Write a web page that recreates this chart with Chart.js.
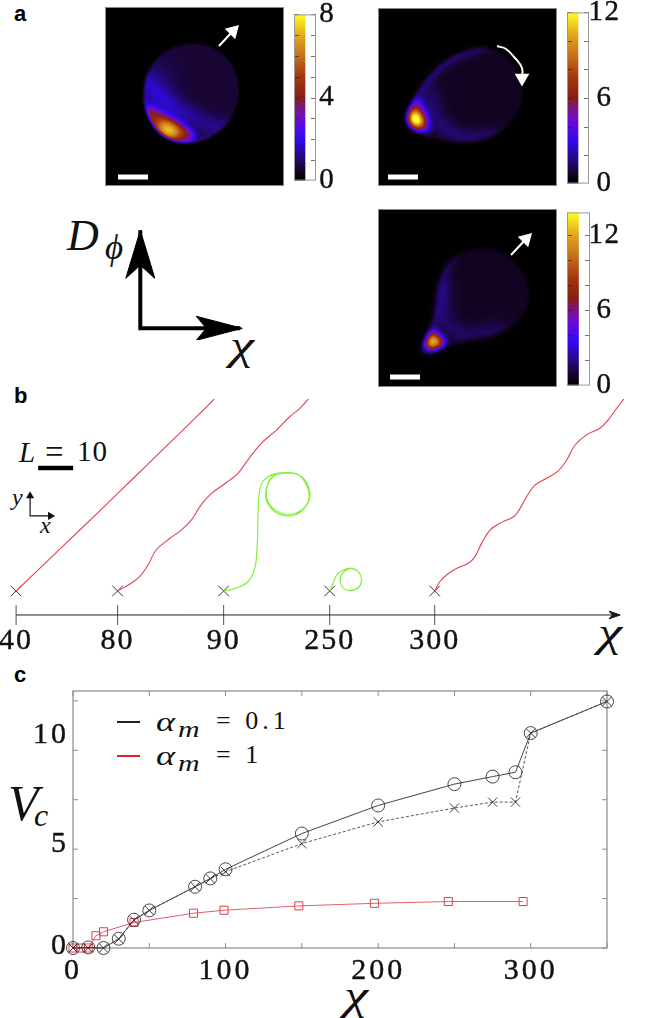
<!DOCTYPE html>
<html>
<head>
<meta charset="utf-8">
<title>Figure</title>
<script src="https://cdn.jsdelivr.net/npm/chart.js@4"></script>
<style>
html, body { margin: 0; padding: 0; background: #fff; }
#page { position: relative; width: 650px; height: 1018px; overflow: hidden; }
canvas { position: absolute; }
.t { position: absolute; font-family: "Liberation Serif", serif; color: #111; white-space: pre; line-height: 1; }
.i { font-style: italic; }
.chi { transform: scaleX(1.3); transform-origin: left top; }
.wide { transform: scaleX(1.3); transform-origin: left top; }
.letter { font-family: "Liberation Sans", sans-serif; font-weight: bold; font-size: 22px; color: #000; }
.key { position: absolute; height: 2px; width: 23px; }
</style>
</head>
<body>
<div id="page">
  <div class="t letter" style="left:14px;top:3px">a</div>
  <div class="t letter" style="left:14px;top:385px">b</div>
  <div class="t letter" style="left:14px;top:664px">c</div>

  <div class="t i" style="left:67px;top:214px;font-size:44px">D</div>
  <div class="t i" style="left:105px;top:230px;font-size:35px">ϕ</div>
  <div class="t i chi" style="left:230px;top:324px;font-size:42px">χ</div>

  <div class="t i" style="left:19px;top:438px;font-size:29px">L</div>
  <div class="t" style="left:45px;top:436px;font-size:33px">=</div>
  <div class="t" style="left:77px;top:437px;font-size:29px;letter-spacing:1px">10</div>
  <div class="t i" style="left:12px;top:485px;font-size:24px">y</div>
  <div class="t i" style="left:40px;top:513px;font-size:24px">x</div>
  <div class="t i chi" style="left:598px;top:611px;font-size:42px">χ</div>

  <div class="t i" style="left:8px;top:778px;font-size:50px">V</div>
  <div class="t i" style="left:34px;top:799px;font-size:32px">c</div>
  <div class="t i chi" style="left:344px;top:974px;font-size:42px">χ</div>

  <div class="key" style="left:117px;top:721px;background:#222"></div>
  <div class="key" style="left:117px;top:755px;background:#d8252d"></div>
  <div class="t i wide" style="left:156px;top:708px;font-size:28px">α</div>
  <div class="t i wide" style="left:178px;top:718px;font-size:23px">m</div>
  <div class="t" style="left:216px;top:708px;font-size:26px;letter-spacing:4px">= 0.1</div>
  <div class="t i wide" style="left:156px;top:742px;font-size:28px">α</div>
  <div class="t i wide" style="left:178px;top:752px;font-size:23px">m</div>
  <div class="t" style="left:216px;top:742px;font-size:26px;letter-spacing:4px">= 1</div>
</div>

<script>
// panel c
const chiBlack = [0, 10, 20, 30, 40, 50, 80, 90, 100, 150, 200, 250, 275, 290, 300, 350];
const vcCircles = [0, 0.03, 0, 0.47, 1.43, 1.9, 3.1, 3.52, 3.98, 5.79, 7.21, 8.29, 8.67, 8.89, 10.87, 12.47];
const vcCrosses = [0, 0, 0, 0.45, 1.4, 1.9, 3.1, 3.5, 3.86, 5.28, 6.38, 7.08, 7.38, 7.38, 10.87, 12.47];
const chiRed = [0, 5, 10, 15, 20, 40, 79, 99, 148, 197.5, 246, 295];
const vcSquares = [0, 0, 0, 0.62, 0.82, 1.29, 1.76, 1.91, 2.13, 2.26, 2.35, 2.35];
const chiTickLabels = [0, 100, 200, 300];
const vcTickLabels = [0, 5, 10];
const vcTickNudge = [-2, -5, -15];

// panel b, tracks in units of L = 10 on the scale bar, relative to each start
const trackStarts = [4.6, 33.6, 63.9, 94.2, 124.2];
const trackLabels = ['40', '80', '90', '250', '300'];
const trackHeight = 6.86;
const track40x = [0, 6.9, 14.5, 23.1, 29.7, 37.3, 44.9, 51.6, 56.6];
const track40y = [0, 6.6, 13.9, 22.1, 28.5, 35.9, 43.3, 49.8, 54.8];
const track80x = [0, 3.4, 6.3, 8.7, 11, 14.9, 18.2, 21.1, 23.5, 26.3, 31.1, 34.4, 37.2, 41, 45.3, 49.1, 52, 54.5];
const track80y = [0, 1.9, 4.1, 7.4, 11.7, 15, 17.4, 20.3, 24.1, 27.4, 31, 33.6, 37.4, 42.1, 45.9, 49.7, 52.1, 54.8];
const track90x = [0, 3.6, 7, 8.9, 9.6, 9.8, 10.1, 11.2, 14.1, 17.9, 21.7, 24.1, 24.4, 23.1, 19.8, 16.5, 13.6, 12.2, 12.7, 14.6, 17.9, 22.2, 24.6, 23.8, 20.3, 16, 13, 12, 13, 15.5, 18.9];
const track90y = [0, 0.8, 2.7, 6.5, 13.1, 20.8, 27.4, 31.2, 33.3, 33.8, 33, 29.3, 26.5, 23.8, 22, 22.2, 24.1, 27, 30.8, 33.1, 33.8, 32.7, 28.4, 24.6, 21.7, 21.9, 24.4, 27.4, 31.2, 33.4, 33.7];
const track250x = [0, 1, 2, 3.9, 6.3, 8.2, 9.1, 8.2, 5.8, 3.9, 3, 3.6, 5.8, 7.7];
const track250y = [0, 2.2, 4.6, 6, 6.5, 5.5, 3.1, 1, 0.1, 0.8, 2.7, 5, 6.4, 5.9];
const track300x = [0, 1.5, 3.9, 6.8, 9.6, 11.5, 13.4, 15.8, 19.1, 22.5, 24.4, 26.3, 28.7, 32, 35.3, 37.7, 40.1, 43.4, 47.2, 49.6, 52, 54];
const track300y = [0, 2.7, 5, 6.7, 7.9, 9.8, 13.6, 17.4, 19.6, 21.2, 23.6, 27, 30.3, 32.2, 34.3, 37.4, 41.7, 44.6, 46.5, 48.9, 52.2, 54.8];

// panel a, colour bars
const barMax = [8, 12, 13.8];
const barStep = [1, 2, 2];
const barLabels = [[0, 4, 8], [0, 6, 12], [0, 6, 12]];
const barLabelGap = [4, 1, 0];
const cmapStops = [0, 0.06, 0.125, 0.25, 0.37, 0.45, 0.5, 0.625, 0.75, 0.875, 1];
const cmapColors = [[0,0,0], [22,4,40], [34,8,110], [48,10,240], [110,10,215], [125,22,110], [135,30,20], [165,55,15], [200,112,25], [225,170,30], [255,255,30]];

// panel a, shapes of the three density images, image units
const body1 = [[86,34],[112,40],[131,60],[136,86],[128,112],[108,131],[81,138],[58,131],[43,113],[37,89],[42,62],[60,42]];
const glow1 = [[38,60],[60,50],[62,90],[80,112],[70,130],[40,110]];
const band1 = [[38,72],[55,92],[85,110],[112,122],[124,122]];
const rim1 = [[37,89],[43,113],[58,131],[81,138],[105,132]];
const warm1 = [[43,96],[51,103],[71,114],[95,129],[81,136],[61,131],[48,121],[41,106]];
const hot1 = [[48,113],[68,118],[80,129],[60,132]];

const body2 = [[27,114],[30,99],[44,75],[65,52],[95,39],[119,39],[142,62],[147,89],[135,115],[112,132],[82,136],[55,132],[34,124]];
const glow2 = [[105,37],[95,39],[65,52],[44,75],[30,99],[28,114]];
const band2 = [[54,85],[52,102],[68,124],[95,133],[118,128]];
const warm2 = [[40,87],[47,108],[54,124],[36,122],[28,114],[32,100]];
const hot2 = [[33,100],[42,105],[47,120],[31,118]];

const body3 = [[40,144],[47,129],[57,104],[59,74],[72,47],[105,35],[135,47],[154,77],[149,107],[122,127],[92,132],[69,139],[50,149]];
const glow3 = [[72,47],[59,74],[57,104],[47,129]];
const band3 = [[66,75],[66,100],[66,118],[90,128],[125,122]];
const warm3 = [[55,119],[63,128],[70,135],[55,142],[44,140],[49,128]];
const hot3 = [[46,131],[56,126],[65,134],[54,140]];

const imageLayers = [
  [ {fill: body1, level: 0.07, blur: 1}, {fill: glow1, level: 0.1, blur: 12}, {line: band1, width: 12, level: 0.13, blur: 7},
    {line: rim1, width: 4, level: 0.14, blur: 2}, {fill: warm1, level: 0.38, blur: 3}, {fill: hot1, level: 0.68, blur: 6} ],
  [ {fill: body2, level: 0.05, blur: 1}, {line: glow2, width: 8, level: 0.15, blur: 5}, {line: band2, width: 9, level: 0.14, blur: 7},
    {fill: warm2, level: 0.42, blur: 4}, {fill: hot2, level: 0.85, blur: 5} ],
  [ {fill: body3, level: 0.05, blur: 1}, {line: glow3, width: 8, level: 0.12, blur: 5}, {line: band3, width: 9, level: 0.12, blur: 7},
    {fill: warm3, level: 0.42, blur: 3}, {fill: hot3, level: 0.7, blur: 5} ]
];
const imageBodies = [body1, body2, body3];
const imageSoftEdge = [1.6, 2.6, 3];
const imageBoxes = [[105, 7, 179, 179], [378, 8, 179, 178], [378, 209, 179, 178]];
const barBoxes = [[294, 7, 22, 179], [567, 8, 22, 178], [567, 209, 23, 178]];

// white scale bars and arrows on the images
const scaleBarX = [[13, 43], [10, 40], [12, 42]];
const scaleBarY = [170, 169, 168];
const arrowX = [[114, 128], [119, 128, 137, 144, 144], [133, 148]];
const arrowY = [[39, 24], [38, 41, 50, 60, 70], [46, 30]];
const arrowTurn = [45, 180, 45];

// D_phi / chi sketch, same size units as the page pixels
const sketchX = [0, 0, 100];
const sketchY = [98, 0, 0];
const headUpX = [0, -14.5, 0, 14.5, 0];
const headUpY = [98, 50, 63, 50, 98];
const headRightX = [102, 56, 66, 56, 102];
const headRightY = [0, 12, 0, -12, 0];

const page = document.getElementById('page');
Chart.defaults.animation = false;
Chart.defaults.responsive = false;
Chart.defaults.layout.autoPadding = false;
Chart.defaults.plugins.legend.display = false;
Chart.defaults.plugins.tooltip.enabled = false;
Chart.defaults.font.family = '"Liberation Serif", serif';

function addCanvas(left, top, width, height) {
  const c = document.createElement('canvas');
  c.width = width;
  c.height = height;
  c.style.left = left + 'px';
  c.style.top = top + 'px';
  page.appendChild(c);
  return c;
}

function wideDigits(px) {
  return { id: 'wideDigits', beforeDraw: chart => { chart.ctx.letterSpacing = px + 'px'; } };
}

function smoothPath(ctx, pts, closed) {
  ctx.beginPath();
  if (closed) {
    const n = pts.length;
    ctx.moveTo((pts[n - 1][0] + pts[0][0]) / 2, (pts[n - 1][1] + pts[0][1]) / 2);
    for (let i = 0; i < n; i++) {
      const a = pts[i], b = pts[(i + 1) % n];
      ctx.quadraticCurveTo(a[0], a[1], (a[0] + b[0]) / 2, (a[1] + b[1]) / 2);
    }
    ctx.closePath();
  } else {
    ctx.moveTo(pts[0][0], pts[0][1]);
    for (let i = 1; i < pts.length - 1; i++) {
      const a = pts[i], b = pts[i + 1];
      ctx.quadraticCurveTo(a[0], a[1], (a[0] + b[0]) / 2, (a[1] + b[1]) / 2);
    }
    ctx.lineTo(pts[pts.length - 1][0], pts[pts.length - 1][1]);
  }
}

function cmap(v) {
  for (let i = 1; i < cmapStops.length; i++) {
    if (v <= cmapStops[i]) {
      const f = (v - cmapStops[i - 1]) / (cmapStops[i] - cmapStops[i - 1]);
      return cmapColors[i].map((c, k) => cmapColors[i - 1][k] + (c - cmapColors[i - 1][k]) * f);
    }
  }
  return cmapColors[cmapColors.length - 1];
}

// paints the density image: grey levels added up, then pushed through the colour map
function densityPlugin(index) {
  return {
    id: 'density',
    beforeDatasetsDraw(chart) {
      const { ctx, chartArea: a, scales: { x, y } } = chart;
      const w = Math.round(a.width), h = Math.round(a.height);
      const off = document.createElement('canvas');
      off.width = w;
      off.height = h;
      const g = off.getContext('2d', { willReadFrequently: true });
      const px = pts => pts.map(p => [x.getPixelForValue(p[0]) - a.left, y.getPixelForValue(p[1]) - a.top]);
      g.fillStyle = '#000';
      g.fillRect(0, 0, w, h);
      g.globalCompositeOperation = 'lighter';
      for (const layer of imageLayers[index]) {
        const v = Math.round(layer.level * 255);
        g.filter = `blur(${layer.blur}px)`;
        g.fillStyle = g.strokeStyle = `rgb(${v},${v},${v})`;
        if (layer.fill) {
          smoothPath(g, px(layer.fill), true);
          g.fill();
        } else {
          g.lineWidth = layer.width;
          g.lineCap = 'round';
          g.lineJoin = 'round';
          smoothPath(g, px(layer.line), false);
          g.stroke();
        }
      }
      // mask outside the cell
      const mask = document.createElement('canvas');
      mask.width = w;
      mask.height = h;
      const m = mask.getContext('2d');
      m.fillStyle = '#000';
      m.fillRect(0, 0, w, h);
      m.filter = `blur(${imageSoftEdge[index]}px)`;
      m.fillStyle = '#fff';
      smoothPath(m, px(imageBodies[index]), true);
      m.fill();
      g.filter = 'none';
      g.globalCompositeOperation = 'multiply';
      g.drawImage(mask, 0, 0);
      const img = g.getImageData(0, 0, w, h);
      for (let i = 0; i < img.data.length; i += 4) {
        const c = cmap(img.data[i] / 255);
        img.data[i] = c[0];
        img.data[i + 1] = c[1];
        img.data[i + 2] = c[2];
        img.data[i + 3] = 255;
      }
      ctx.putImageData(img, a.left, a.top);
      ctx.strokeStyle = '#888';
      ctx.lineWidth = 1;
      ctx.strokeRect(a.left + 0.5, a.top + 0.5, a.width - 1, a.height - 1);
    }
  };
}

function drawImagePanel(i) {
  const b = imageBoxes[i];
  const n = arrowX[i].length;
  new Chart(addCanvas(b[0], b[1], b[2], b[3]), {
    type: 'scatter',
    data: {
      datasets: [
        {
          data: scaleBarX[i].map(v => ({ x: v, y: scaleBarY[i] })),
          showLine: true, borderColor: '#fff', borderWidth: 5, pointRadius: 0
        },
        {
          data: arrowX[i].map((v, k) => ({ x: v, y: arrowY[i][k] })),
          showLine: true, borderColor: '#fff', borderWidth: 2, tension: 0.4,
          pointRadius: arrowX[i].map((v, k) => k === n - 1 ? 6.5 : 0),
          pointRotation: arrowTurn[i],
          pointStyle: 'triangle', pointBackgroundColor: '#fff', pointBorderColor: '#fff'
        }
      ]
    },
    options: {
      layout: { padding: 0 },
      scales: {
        x: { display: false, min: 0, max: b[2] },
        y: { display: false, min: 0, max: b[3], reverse: true }
      }
    },
    plugins: [densityPlugin(i)]
  });
}

function drawColorBar(i) {
  const b = barBoxes[i];
  new Chart(addCanvas(b[0], b[1] - 14, b[2] + 42, b[3] + 30), {
    type: 'bar',
    data: {
      labels: [''],
      datasets: [{
        data: [barMax[i]],
        barPercentage: 1,
        categoryPercentage: 1,
        backgroundColor: ctx => {
          const a = ctx.chart.chartArea;
          if (!a) return '#000';
          const grad = ctx.chart.ctx.createLinearGradient(0, a.bottom, 0, a.top);
          cmapStops.forEach((s, k) => grad.addColorStop(s, `rgb(${cmapColors[k].join(',')})`));
          return grad;
        }
      }]
    },
    options: {
      layout: { padding: { top: 14, bottom: 16, left: 0, right: 0 } },
      scales: {
        x: { display: false, offset: false },
        y: {
          position: 'right', min: 0, max: barMax[i],
          grid: { display: false, drawTicks: false },
          border: { display: false },
          afterFit: s => { s.width = 42; },
          ticks: {
            stepSize: barStep[i], includeBounds: false, padding: barLabelGap[i], autoSkip: false,
            crossAlign: 'center', font: { size: 29 }, color: '#111', textStrokeWidth: 0.4, textStrokeColor: '#111',
            callback: v => barLabels[i].includes(v) ? String(v) : ''
          }
        }
      }
    },
    plugins: [wideDigits(1.5), {
      id: 'barFrame',
      afterDraw(chart) {
        const { ctx, chartArea: a, scales: { y } } = chart;
        ctx.save();
        ctx.strokeStyle = 'rgba(60,25,20,0.65)';
        ctx.lineWidth = 1;
        for (const t of y.ticks) {
          const p = Math.round(y.getPixelForValue(t.value)) + 0.5;
          if (t.value === 0) continue;
          ctx.beginPath();
          ctx.moveTo(a.left, p);
          ctx.lineTo(a.left + 5, p);
          ctx.moveTo(a.right - 5, p);
          ctx.lineTo(a.right, p);
          ctx.stroke();
        }
        ctx.strokeStyle = '#999';
        ctx.strokeRect(a.left + 0.5, a.top + 0.5, a.width - 1, a.height - 1);
        ctx.restore();
      }
    }]
  });
}

[0, 1, 2].forEach(i => { drawImagePanel(i); drawColorBar(i); });

// D_phi / chi sketch
new Chart(addCanvas(120, 220, 130, 120), {
  type: 'scatter',
  data: {
    datasets: [
      { data: sketchX.map((v, i) => ({ x: v, y: sketchY[i] })), showLine: true, borderColor: '#000', borderWidth: 4, pointRadius: 0, borderJoinStyle: 'miter' },
      { data: headUpX.map((v, i) => ({ x: v, y: headUpY[i] })), showLine: true, fill: 'shape', backgroundColor: '#000', borderColor: '#000', borderWidth: 1, pointRadius: 0 },
      { data: headRightX.map((v, i) => ({ x: v, y: headRightY[i] })), showLine: true, fill: 'shape', backgroundColor: '#000', borderColor: '#000', borderWidth: 1, pointRadius: 0 }
    ]
  },
  options: {
    scales: {
      x: { display: false, min: -20.3, max: 109.7 },
      y: { display: false, min: -11.7, max: 108.3 }
    }
  }
});

// panel b
function track(xs, ys, start, color, width) {
  return {
    data: xs.map((v, i) => ({ x: start + v, y: trackHeight + ys[i] })),
    showLine: true, borderColor: color, borderWidth: width, tension: 0.4, pointRadius: 0
  };
}
const redTrack = '#e0424e';
const greenTrack = '#84f03c';

new Chart(addCanvas(0, 385, 650, 280), {
  type: 'scatter',
  data: {
    datasets: [
      track(track40x, track40y, trackStarts[0], redTrack, 1.1),
      track(track80x, track80y, trackStarts[1], redTrack, 1.1),
      track(track90x, track90y, trackStarts[2], greenTrack, 1.2),
      track(track250x, track250y, trackStarts[3], greenTrack, 1.2),
      track(track300x, track300y, trackStarts[4], redTrack, 1.1),
      { // start crosses
        data: trackStarts.map(v => ({ x: v, y: trackHeight })),
        pointStyle: 'crossRot', pointRadius: 7.5, pointBorderColor: '#333', pointBorderWidth: 1, clip: false
      },
      { // axis line
        data: [{ x: 4.6, y: 0 }, { x: 176, y: 0 }],
        showLine: true, borderColor: '#222', borderWidth: 1, pointRadius: 0
      },
      { // axis ticks
        data: trackStarts.map(v => ({ x: v, y: 0 })),
        pointStyle: 'line', pointRotation: 90, pointRadius: 10, pointBorderColor: '#555', pointBorderWidth: 1, clip: false
      },
      { // axis arrow head
        data: [{ x: 177.2, y: 0 }, { x: 174, y: 1.1 }, { x: 175, y: 0 }, { x: 174, y: -1.1 }, { x: 177.2, y: 0 }],
        showLine: true, fill: 'shape', backgroundColor: '#111', borderColor: '#111', borderWidth: 1, pointRadius: 0
      },
      { // L scale bar
        data: [{ x: 10.9, y: 42 }, { x: 20.9, y: 42 }],
        showLine: true, borderColor: '#000', borderWidth: 4.5, pointRadius: 0
      },
      { // x, y directions
        data: [{ x: 8.6, y: 34 }, { x: 8.6, y: 28.3 }, { x: 14.4, y: 28.3 }],
        showLine: true, borderColor: '#111', borderWidth: 1.2,
        pointRadius: [3.5, 0, 3.5], pointRotation: [0, 0, 90], pointStyle: 'triangle',
        pointBackgroundColor: '#111', pointBorderColor: '#111'
      }
    ]
  },
  options: {
    scales: {
      x: {
        min: 0, max: 650 / 3.5,
        grid: { display: false, drawTicks: false }, border: { display: false },
        afterBuildTicks: s => { s.ticks = trackStarts.map(v => ({ value: v })); },
        afterFit: s => { s.height = 43; s.paddingLeft = 0; s.paddingRight = 0; },
        ticks: {
          autoSkip: false, maxRotation: 0, padding: 1, color: '#111', font: { size: 30 }, textStrokeWidth: 0.4, textStrokeColor: '#111',
          callback: (v, i) => trackLabels[i]
        }
      },
      y: { display: false, min: -2, max: 65.7 }
    }
  },
  plugins: [wideDigits(2)]
});

// panel c
const frameColor = '#8a8a8a';
new Chart(addCanvas(0, 670, 650, 348), {
  type: 'scatter',
  data: {
    datasets: [
      {
        data: chiBlack.map((v, i) => ({ x: v, y: vcCrosses[i] })),
        showLine: true, borderColor: '#444', borderWidth: 0.9, borderDash: [3, 2],
        pointStyle: 'crossRot', pointRadius: 6.5, pointBorderColor: '#222', pointBorderWidth: 0.9, clip: false
      },
      {
        data: chiBlack.map((v, i) => ({ x: v, y: vcCircles[i] })),
        showLine: true, borderColor: '#444', borderWidth: 1,
        pointStyle: 'circle', pointRadius: 6.5, pointBackgroundColor: 'transparent', pointBorderColor: '#333', pointBorderWidth: 0.9, clip: false
      },
      {
        data: chiRed.map((v, i) => ({ x: v, y: vcSquares[i] })),
        showLine: true, borderColor: '#e0606a', borderWidth: 1,
        pointStyle: 'rect', pointRadius: 5.7, pointBackgroundColor: 'transparent', pointBorderColor: '#d9414c', pointBorderWidth: 1, clip: false
      }
    ]
  },
  options: {
    layout: { padding: { left: 73, top: 21, right: 43, bottom: 34 } },
    scales: {
      x: {
        min: 0, max: 350,
        grid: { display: false, drawTicks: false }, border: { display: false },
        afterFit: s => { s.height = 36; },
        ticks: {
          stepSize: 50, autoSkip: false, maxRotation: 0, padding: 5, color: '#111', font: { size: 30 }, textStrokeWidth: 0.4, textStrokeColor: '#111',
          callback: v => chiTickLabels.includes(v) ? String(v) : ''
        }
      },
      y: {
        min: 0, max: 13,
        grid: { display: false }, border: { display: false },
        afterFit: s => { s.width = 0; },
        ticks: { stepSize: 2.5, includeBounds: false, display: false }
      }
    }
  },
  plugins: [wideDigits(3), {
    id: 'frameTicks',
    beforeDatasetsDraw(chart) {
      const { ctx, chartArea: a, scales: { x, y } } = chart;
      ctx.save();
      ctx.strokeStyle = frameColor;
      ctx.lineWidth = 1.2;
      ctx.strokeRect(a.left, a.top, a.width, a.height);
      ctx.lineWidth = 1;
      ctx.beginPath();
      for (const t of x.ticks) {
        const p = x.getPixelForValue(t.value);
        ctx.moveTo(p, a.top);
        ctx.lineTo(p, a.top + 5);
        ctx.moveTo(p, a.bottom);
        ctx.lineTo(p, a.bottom - 5);
      }
      for (const t of y.ticks) {
        const p = y.getPixelForValue(t.value);
        ctx.moveTo(a.left, p);
        ctx.lineTo(a.left + 5, p);
        ctx.moveTo(a.right, p);
        ctx.lineTo(a.right - 5, p);
      }
      ctx.stroke();
      // the y labels sit a little above their ticks in this figure
      ctx.fillStyle = '#111';
      ctx.strokeStyle = '#111';
      ctx.lineWidth = 0.4;
      ctx.font = '30px "Liberation Serif"';
      ctx.textAlign = 'right';
      ctx.textBaseline = 'middle';
      vcTickLabels.forEach((v, i) => {
        ctx.strokeText(String(v), a.left - 4, y.getPixelForValue(v) + vcTickNudge[i]);
        ctx.fillText(String(v), a.left - 4, y.getPixelForValue(v) + vcTickNudge[i]);
      });
      ctx.restore();
    }
  }]
});
</script>
</body>
</html>
